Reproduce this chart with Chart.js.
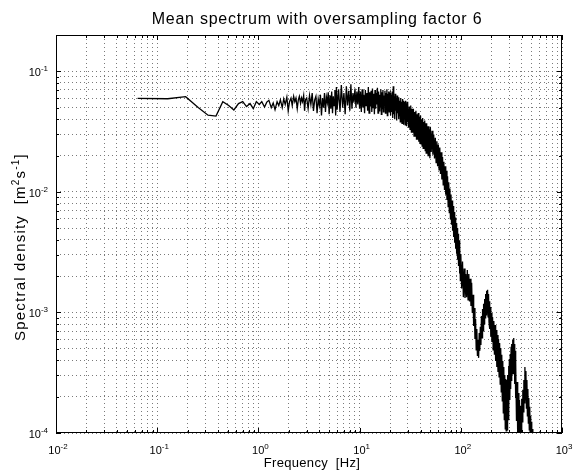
<!DOCTYPE html>
<html>
<head>
<meta charset="utf-8">
<script src="https://cdn.jsdelivr.net/npm/chart.js@4.4.1/dist/chart.umd.min.js"></script>
<style>
  html, body { margin: 0; padding: 0; background: #fff; }
</style>
</head>
<body>
<canvas id="grafico" width="577" height="473"></canvas>
<script>
/* Espectro médio (fator de sobreamostragem 6) — eixos log-log no estilo MATLAB:
   grade pontilhada, moldura fechada, marcas de escala para dentro. */

const TITULO = "Mean spectrum with oversampling factor 6";
const ROTULO_X = "Frequency  [Hz]";
const ROTULO_Y = ["Spectral density  [m", "2", "s", "-1", "]"];

// décadas rotuladas e múltiplos usados na grade secundária
const DECADAS_X = [1e-2, 1e-1, 1e0, 1e1, 1e2, 1e3];
const ROTULOS_X = ["10^-2", "10^-1", "10^0", "10^1", "10^2", "10^3"];
const DECADAS_Y = [1e-4, 1e-3, 1e-2, 1e-1];
const ROTULOS_Y = ["10^-4", "10^-3", "10^-2", "10^-1"];
const MULTIPLOS = [1, 2, 3, 4, 5, 6, 7, 8, 9];
const LIM_X = [1e-2, 1e3];
const LIM_Y = [1e-4, 0.2];

// frequências [Hz]
const freqHz = [
  0.064, 0.127, 0.191, 0.254, 0.318, 0.381, 0.445, 0.509, 0.572, 0.636, 0.70, 0.763, 0.827, 0.89, 0.954,
  1.02, 1.08, 1.15, 1.21, 1.27, 1.34, 1.40, 1.46, 1.53, 1.59, 1.65, 1.72, 1.78, 1.84, 1.91, 1.97,
  2.03, 2.10, 2.16, 2.23, 2.29, 2.35, 2.42, 2.48, 2.54, 2.61, 2.67, 2.73, 2.80, 2.86, 2.92,
  3.0, 3.1, 3.2, 3.3, 3.4, 3.5, 3.6, 3.7, 3.8, 3.9, 4.0, 4.1, 4.2, 4.3, 4.4, 4.5, 4.6, 4.7, 4.8, 4.9,
  5.0, 5.1, 5.2, 5.3, 5.4, 5.5, 5.6, 5.7, 5.8, 5.9,
  6.0, 6.2, 6.4, 6.6, 6.8, 7.0, 7.2, 7.4, 7.6, 7.8, 8.0, 8.2, 8.4, 8.6, 8.8, 9.0, 9.2, 9.4, 9.6, 9.8,
  10.0, 10.2, 10.4, 10.6, 10.8, 11.0, 11.2, 11.4, 11.6, 11.8, 12.0, 12.2, 12.4, 12.6, 12.8,
  13.0, 13.2, 13.4, 13.6, 13.8, 14.0, 14.2, 14.4, 14.6, 14.8, 15.0, 15.2, 15.4, 15.6, 15.8,
  16.0, 16.2, 16.4, 16.6, 16.8, 17.0, 17.2, 17.4, 17.6, 17.8, 18.0, 18.2, 18.4, 18.6, 18.8,
  19.0, 19.2, 19.4, 19.6, 19.8,
  20.0, 20.25, 20.5, 20.75, 21.0, 21.25, 21.5, 21.75, 22.0, 22.25, 22.5, 22.75, 23.0, 23.25, 23.5, 23.75,
  24.0, 24.25, 24.5, 24.75, 25.0, 25.25, 25.5, 25.75, 26.0, 26.25, 26.5, 26.75, 27.0, 27.25, 27.5, 27.75,
  28.0, 28.25, 28.5, 28.75, 29.0, 29.25, 29.5, 29.75,
  30.0, 30.5, 31.0, 31.5, 32.0, 32.5, 33.0, 33.5, 34.0, 34.5, 35.0, 35.5, 36.0, 36.5, 37.0, 37.5,
  38.0, 38.5, 39.0, 39.5, 40.0, 40.5, 41.0, 41.5, 42.0, 42.5, 43.0, 43.5, 44.0, 44.5, 45.0, 45.5,
  46.0, 46.5, 47.0, 47.5, 48.0, 48.5, 49.0, 49.5,
  50, 51, 52, 53, 54, 55, 56, 57, 58, 59, 60, 61, 62, 63, 64, 65, 66, 67, 68, 69, 70, 71, 72, 73, 74,
  75, 76, 77, 78, 79, 80, 81, 82, 83, 84, 85, 86, 87, 88, 89, 90, 91, 92, 93, 94, 95, 96, 97, 98, 99,
  100, 102, 104, 106, 108, 110, 112, 114, 116, 118, 120, 122, 124, 126, 128, 130, 132, 134, 136, 138,
  140, 142, 144, 146, 148, 150, 152, 154, 156, 158, 160, 162, 164, 166, 168, 170, 172, 174, 176, 178,
  180, 182, 184, 186, 188, 190, 192, 194, 196, 198,
  200, 203, 206, 209, 212, 215, 218, 221, 224, 227, 230, 233, 236, 239, 242, 245, 248, 251, 254, 257,
  260, 263, 266, 269, 272, 275, 278, 281, 284, 287, 290, 293, 296, 299, 302, 305, 308, 311, 314, 317,
  320, 323, 326, 329, 332, 335, 338, 341, 344, 347,
  350, 355, 360, 365, 370, 375, 380, 385, 390, 395, 400, 405, 410, 415, 420, 425, 430, 435, 440, 445,
  450, 455, 460, 465, 470, 475, 480, 485, 490, 495, 500, 505, 510, 515, 520, 525, 530, 535, 540, 545, 550,
];

// densidade espectral [m^2 s^-1]
const densidade = [
  0.0597, 0.0592, 0.0616, 0.0500, 0.0432, 0.0425, 0.0560, 0.0520, 0.0478, 0.0540, 0.0560, 0.0510, 0.0540, 0.0490, 0.0560,
  0.0530, 0.0560, 0.0505, 0.0555, 0.0575, 0.0500, 0.0545, 0.0480, 0.0560, 0.0520, 0.0580, 0.0500, 0.0590, 0.0530, 0.0610, 0.0470,
  0.0560, 0.0600, 0.0520, 0.0620, 0.0560, 0.0600, 0.0490, 0.0580, 0.0620, 0.0540, 0.0600, 0.0560, 0.0630, 0.0470, 0.0580,
  0.060, 0.049, 0.063, 0.053, 0.066, 0.047, 0.058, 0.062, 0.045, 0.059, 0.052, 0.064, 0.043, 0.060, 0.050, 0.066, 0.046, 0.061, 0.055, 0.067,
  0.044, 0.063, 0.049, 0.068, 0.045, 0.062, 0.052, 0.070, 0.043, 0.074,
  0.048, 0.071, 0.046, 0.077, 0.050, 0.066, 0.044, 0.075, 0.052, 0.069, 0.047, 0.078, 0.049, 0.066, 0.055, 0.072, 0.050, 0.068, 0.053, 0.074,
  0.049, 0.068, 0.046, 0.071, 0.050, 0.064, 0.045, 0.070, 0.052, 0.066, 0.047, 0.074, 0.045, 0.067, 0.051,
  0.069, 0.046, 0.072, 0.050, 0.065, 0.044, 0.070, 0.049, 0.066, 0.053, 0.073, 0.045, 0.068, 0.047, 0.064,
  0.051, 0.071, 0.044, 0.067, 0.049, 0.070, 0.046, 0.063, 0.052, 0.069, 0.045, 0.066, 0.050, 0.071, 0.043,
  0.065, 0.048, 0.068, 0.046, 0.064,
  0.066, 0.043, 0.064, 0.046, 0.068, 0.041, 0.075, 0.044, 0.062, 0.040, 0.065, 0.047, 0.060, 0.039, 0.063, 0.045,
  0.059, 0.040, 0.061, 0.043, 0.057, 0.038, 0.060, 0.044, 0.056, 0.037, 0.059, 0.042, 0.057, 0.036, 0.056, 0.041,
  0.055, 0.036, 0.057, 0.040, 0.054, 0.035, 0.056, 0.038,
  0.054, 0.034, 0.051, 0.033, 0.052, 0.031, 0.049, 0.031, 0.049, 0.029, 0.046, 0.029, 0.047, 0.027, 0.044, 0.027,
  0.045, 0.026, 0.042, 0.025, 0.043, 0.025, 0.040, 0.024, 0.041, 0.023, 0.038, 0.023, 0.039, 0.022, 0.037, 0.021,
  0.037, 0.021, 0.035, 0.020, 0.035, 0.020, 0.033, 0.019,
  0.0347, 0.0214, 0.0321, 0.0203, 0.0299, 0.0189, 0.0281, 0.0175, 0.0263, 0.0163, 0.0247, 0.01525, 0.0233, 0.01407,
  0.0213, 0.01265, 0.0195, 0.01145, 0.01774, 0.01037, 0.01633, 0.00946, 0.01496, 0.00857, 0.0135,
  0.00755, 0.0120, 0.00673, 0.01064, 0.0060, 0.0095, 0.00534, 0.00847, 0.00475, 0.00764, 0.00422, 0.0068, 0.00378,
  0.00612, 0.00338, 0.00551, 0.00306, 0.00502, 0.00274, 0.0045, 0.00243, 0.00397, 0.0021, 0.0035, 0.00184,
  0.00305, 0.00158, 0.00265, 0.00134, 0.00231, 0.00132, 0.00208, 0.00134, 0.00225, 0.00127, 0.00208, 0.00123,
  0.0019, 0.00113, 0.00176, 0.00099, 0.0014, 0.000773, 0.00109, 0.000603,
  0.000883, 0.000489, 0.00073, 0.000436, 0.000592, 0.00042, 0.000676, 0.00048, 0.000759, 0.000537, 0.000935, 0.000615,
  0.00107, 0.000703, 0.00118, 0.000803, 0.00129, 0.0009, 0.00142, 0.000953,
  0.00151, 0.00099, 0.00154, 0.000918, 0.00142, 0.000834, 0.00124, 0.00073, 0.00111, 0.000627,
  0.00099, 0.000569, 0.000918, 0.000489, 0.00085, 0.000445, 0.000788, 0.000396, 0.000716, 0.000353, 0.00065, 0.000321,
  0.000603, 0.000292, 0.000559, 0.000255, 0.000508, 0.000219, 0.000445, 0.000185,
  0.000396, 0.000147, 0.000353, 0.000129, 0.000303, 0.000108, 0.000281, 0.000104, 0.000275, 0.000106, 0.000303, 0.000129,
  0.00036, 0.000156, 0.000411, 0.000188, 0.000453, 0.000232, 0.000518, 0.00027,
  0.000548, 0.000309, 0.000592, 0.000347, 0.000615, 0.000309, 0.000548, 0.000255, 0.00048, 0.000195,
  0.000396, 0.000126, 0.000265, 0.0000946, 0.000215, 0.0000828, 0.000188, 0.0000828, 0.000168, 0.0000929,
  0.000192, 0.000124, 0.000228, 0.00015, 0.000275, 0.000178, 0.000353, 0.000188, 0.000327, 0.000161,
  0.000275, 0.000139, 0.000232, 0.000121, 0.000195, 0.000106, 0.000165, 0.0000929, 0.000139, 0.0000844,
  0.000124, 0.0000767, 0.000108, 0.0000722, 0.0000982, 0.000067, 0.0000877, 0.0000622, 0.0000782, 0.0000577, 0.000066,
];

const FONTE = '"Liberation Sans", Arial, Helvetica, sans-serif';
const ehDecada = (v) => Math.abs(Math.log10(v) - Math.round(Math.log10(v))) < 1e-9;

function marcasGrade(decadas, [min, max]) {
  const vals = [];
  decadas.forEach((d) => MULTIPLOS.forEach((m) => {
    const v = d * m;
    if (v >= min * 0.999 && v <= max * 1.001) vals.push(v);
  }));
  if (!vals.some((v) => Math.abs(v - max) / max < 1e-6)) vals.push(max);
  return vals.map((v) => ({ value: v, major: ehDecada(v) }));
}

// texto com expoentes: partes = [{t, tam, sobe}]; esp = espaçamento entre letras
function escrever(ctx, partes, x, y, alinhamento, esp = 0) {
  ctx.letterSpacing = esp + "px";
  let total = 0;
  partes.forEach((p) => { ctx.font = `${p.tam}px ${FONTE}`; p.w = ctx.measureText(p.t).width; total += p.w; });
  let cx = alinhamento === "right" ? x - total : alinhamento === "center" ? x - total / 2 : x;
  partes.forEach((p) => {
    ctx.font = `${p.tam}px ${FONTE}`;
    ctx.fillText(p.t, cx, y - (p.sobe || 0));
    cx += p.w;
  });
  ctx.letterSpacing = "0px";
}

const potencia = (r) => {
  const [base, exp] = r.split("^");
  return [{ t: base, tam: 11 }, { t: exp, tam: 8, sobe: 5 }];
};

const moldura = {
  id: "moldura",
  afterDraw(chart) {
    const { ctx, chartArea: a, scales: { x, y } } = chart;
    ctx.save();
    ctx.strokeStyle = "#000";
    ctx.lineWidth = 1;
    ctx.strokeRect(a.left + 0.5, a.top + 0.5, a.right - a.left - 1, a.bottom - a.top - 1);

    // marcas para dentro (todas as bordas)
    ctx.beginPath();
    x.ticks.forEach((t) => {
      const px = Math.round(x.getPixelForValue(t.value)) + 0.5;
      const n = t.major ? 5 : 3;
      ctx.moveTo(px, a.bottom); ctx.lineTo(px, a.bottom - n);
      ctx.moveTo(px, a.top); ctx.lineTo(px, a.top + n);
    });
    y.ticks.forEach((t) => {
      const py = Math.round(y.getPixelForValue(t.value)) + 0.5;
      const n = t.major ? 5 : 3;
      ctx.moveTo(a.left, py); ctx.lineTo(a.left + n, py);
      ctx.moveTo(a.right, py); ctx.lineTo(a.right - n, py);
    });
    ctx.stroke();

    ctx.fillStyle = "#000";
    ctx.textAlign = "left";
    ctx.textBaseline = "alphabetic";
    DECADAS_X.forEach((d, i) => escrever(ctx, potencia(ROTULOS_X[i]), x.getPixelForValue(d) + 2, a.bottom + 21, "center"));
    DECADAS_Y.forEach((d, i) => escrever(ctx, potencia(ROTULOS_Y[i]), a.left - 8, y.getPixelForValue(d) + 5, "right"));

    escrever(ctx, [{ t: TITULO, tam: 16 }], 317, 24, "center", 0.75);
    escrever(ctx, [{ t: ROTULO_X, tam: 13 }], 312, 467, "center", 0.3);

    ctx.translate(25, 247);
    ctx.rotate(-Math.PI / 2);
    const [p1, sup1, p2, sup2, p3] = ROTULO_Y;
    escrever(ctx, [
      { t: p1, tam: 15 }, { t: sup1, tam: 10, sobe: 6 }, { t: p2, tam: 15 },
      { t: sup2, tam: 10, sobe: 6 }, { t: p3, tam: 15 },
    ], 0, 0, "center", 1.2);
    ctx.restore();
  },
};

const eixoLog = (lim, decadas, lado) => ({
  type: "logarithmic",
  min: lim[0],
  max: lim[1],
  ticks: { display: false },
  grid: { color: "#7a7a7a", lineWidth: 1, drawTicks: false },
  border: { display: false, dash: [1, 3] },
  afterBuildTicks: (s) => { s.ticks = marcasGrade(decadas, lim); },
  afterFit: (s) => { if (lado === "x") s.height = 0; else s.width = 0; },
});

new Chart(document.getElementById("grafico"), {
  type: "line",
  data: {
    datasets: [{
      data: freqHz.map((f, i) => ({ x: f, y: densidade[i] })),
      borderColor: "#000",
      borderWidth: 1.3,
      pointRadius: 0,
      tension: 0,
      fill: false,
    }],
  },
  options: {
    responsive: false,
    animation: false,
    devicePixelRatio: 1,
    layout: { padding: { left: 56, right: 15, top: 35, bottom: 40 } },
    plugins: { legend: { display: false }, tooltip: { enabled: false }, title: { display: false } },
    scales: {
      x: eixoLog(LIM_X, DECADAS_X, "x"),
      y: eixoLog(LIM_Y, DECADAS_Y, "y"),
    },
  },
  plugins: [moldura],
});
</script>
</body>
</html>
